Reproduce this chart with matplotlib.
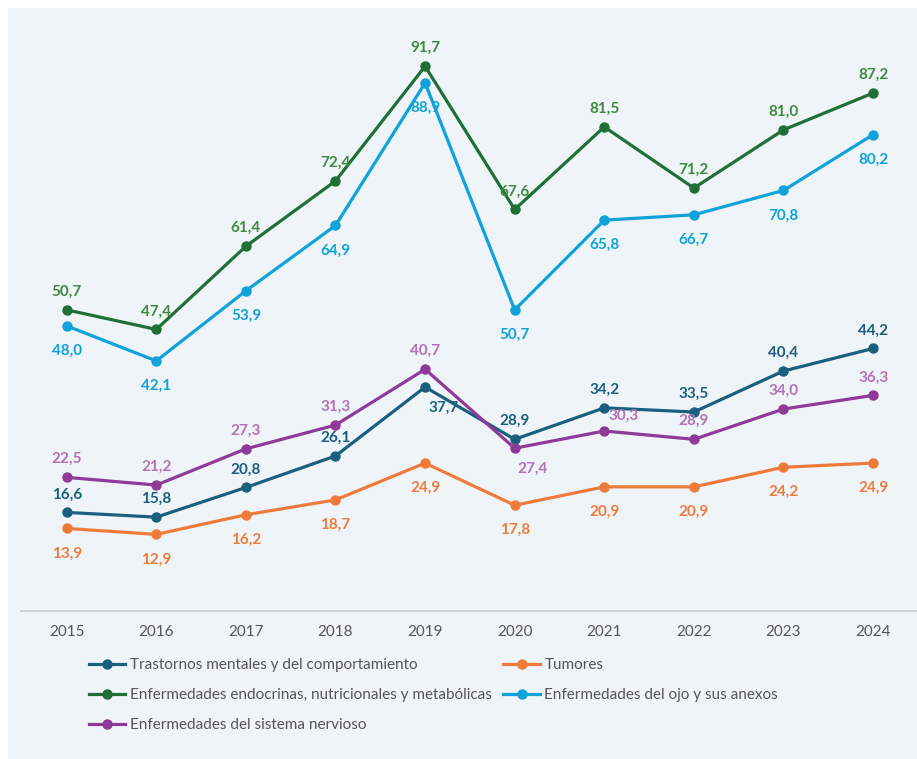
import matplotlib.pyplot as plt
from matplotlib.patches import Rectangle

plt.rcParams['font.family'] = ['Lato', 'DejaVu Sans']

years = ['2015', '2016', '2017', '2018', '2019', '2020', '2021', '2022', '2023', '2024']

mentales = [16.6, 15.8, 20.8, 26.1, 37.7, 28.9, 34.2, 33.5, 40.4, 44.2]
tumores = [13.9, 12.9, 16.2, 18.7, 24.9, 17.8, 20.9, 20.9, 24.2, 24.9]
endocrinas = [50.7, 47.4, 61.4, 72.4, 91.7, 67.6, 81.5, 71.2, 81.0, 87.2]
ojo = [48.0, 42.1, 53.9, 64.9, 88.9, 50.7, 65.8, 66.7, 70.8, 80.2]
nervioso = [22.5, 21.2, 27.3, 31.3, 40.7, 27.4, 30.3, 28.9, 34.0, 36.3]

# label placement per point: 'a' above, 'b' below, 'br' below-right, 'ar' above-right
pos_mentales = ['a', 'a', 'a', 'a', 'br', 'a', 'a', 'a', 'a', 'a']
pos_tumores = ['b'] * 10
pos_endocrinas = ['a'] * 10
pos_ojo = ['b'] * 10
pos_nervioso = ['a', 'a', 'a', 'a', 'a', 'br', 'ar', 'a', 'a', 'a']

series = [
    ('Trastornos mentales y del comportamiento', mentales, pos_mentales, '#1b5f7f', '#1b5f7f'),
    ('Tumores', tumores, pos_tumores, '#ef7b3b', '#ef7b3b'),
    ('Enfermedades endocrinas, nutricionales y metabólicas', endocrinas, pos_endocrinas, '#1f6f37', '#3f8a40'),
    ('Enfermedades del ojo y sus anexos', ojo, pos_ojo, '#0fa3d9', '#0fa3d9'),
    ('Enfermedades del sistema nervioso', nervioso, pos_nervioso, '#8e3a98', '#b372b8'),
]

bg = '#eff4f9'
fig = plt.figure(figsize=(9.17, 7.59), dpi=100, facecolor='white')
fig.patches.append(Rectangle((8 / 917, 0), 1, 1 - 8 / 759, transform=fig.transFigure,
                             facecolor=bg, edgecolor='none', zorder=-10))

ax = fig.add_axes([21 / 917, 1 - 611 / 759, 896 / 917, (611 - 17) / 759])
ax.set_facecolor('none')

x = list(range(len(years)))
offsets = {'a': (0, 13), 'b': (0, -18), 'br': (13, -15), 'ar': (14, 11)}

lines = []
for name, vals, pos, color, lcolor in series:
    ln, = ax.plot(x, vals, color=color, lw=2.3, marker='o', ms=6.5, label=name, zorder=3)
    lines.append(ln)
    for xi, v, p in zip(x, vals, pos):
        ax.annotate(f'{v:.1f}'.replace('.', ','), (xi, v), xytext=offsets[p],
                    textcoords='offset points', ha='center', va='center',
                    fontsize=11, fontweight='bold', color=lcolor, zorder=4)

ax.set_xlim(-0.51, 9.49)
ax.set_ylim(0, 100)
ax.set_xticks(x)
ax.set_xticklabels(years)
ax.set_yticks([])
ax.tick_params(axis='x', length=0, pad=10, labelsize=11, labelcolor='#555555')
for s in ['top', 'left', 'right']:
    ax.spines[s].set_visible(False)
ax.spines['bottom'].set_color('#cfd3d7')
ax.spines['bottom'].set_linewidth(1.5)

# legend fills column by column: reorder so rows read left to right
order = [0, 2, 4, 1, 3]
fig.legend([lines[i] for i in order], [lines[i].get_label() for i in order],
           loc='upper left', bbox_to_anchor=(0.09, 0.141), ncol=2, frameon=False,
           fontsize=11, labelcolor='#555555', handlelength=2.4, handletextpad=0.3,
           columnspacing=0.75, labelspacing=1.05, borderaxespad=0)

fig.savefig('out.png', dpi=100, facecolor='white')
